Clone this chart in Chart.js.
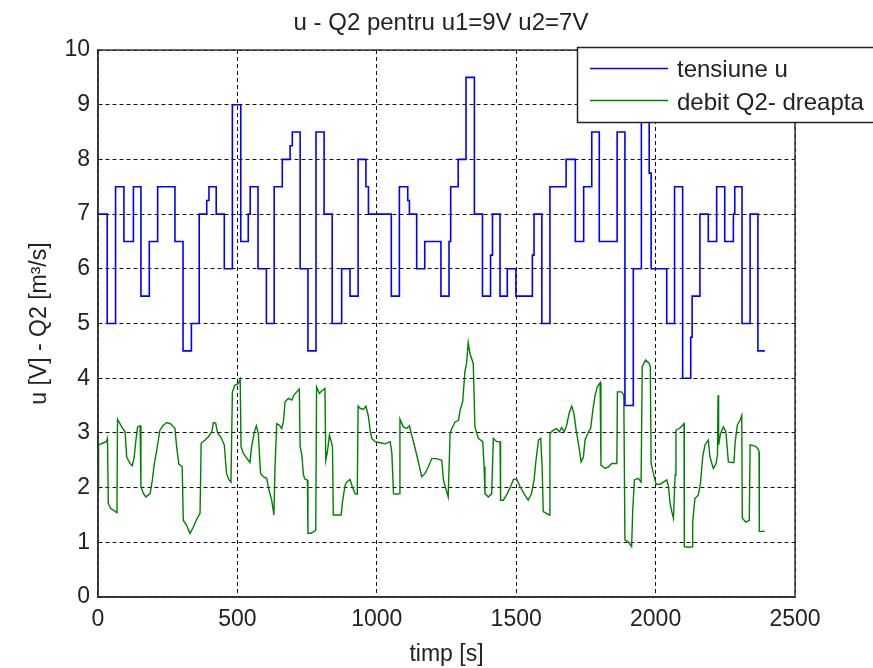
<!DOCTYPE html>
<html>
<head>
<meta charset="utf-8">
<title>u - Q2</title>
<script src="https://cdn.jsdelivr.net/npm/chart.js@4.4.1/dist/chart.umd.min.js"></script>
<style>
  body { margin: 0; background: #fff; }
  #wrap { width: 873px; height: 668px; position: relative; }
</style>
</head>
<body>
<div id="wrap"><canvas id="myChart"></canvas></div>
<script>
// tensiune u: step changes (time [s], value [V])
var uTime = [0, 33, 63, 93, 127, 154, 184, 214, 276, 305, 335, 363, 390, 398, 424, 453, 482, 512, 539, 546,
  574, 604, 632, 661, 689, 697, 725, 753, 782, 811, 840, 874, 904, 933, 961, 970, 1052, 1081, 1111, 1117,
  1143, 1172, 1230, 1259, 1265, 1292, 1320, 1350, 1379, 1408, 1415, 1442, 1468, 1499, 1558, 1564, 1592, 1621,
  1679, 1712, 1742, 1771, 1798, 1862, 1890, 1920, 1949, 1977, 1984, 2040, 2068, 2097, 2126, 2131, 2159, 2189,
  2219, 2248, 2279, 2284, 2310, 2339, 2367, 2392];
var uValue = [7, 5, 7.5, 6.5, 7.5, 5.5, 6.5, 7.5, 6.5, 4.5, 5, 7, 7.25, 7.5, 7, 6, 9, 6.5, 7, 7.5,
  6, 5, 7.5, 8, 8.25, 8.5, 6, 4.5, 8.5, 7, 5, 6, 5.5, 8, 7.5, 7, 5.5, 7.5, 7.25, 7,
  6, 6.5, 5.5, 6.5, 7.5, 8, 9.5, 7, 5.5, 6.25, 7, 5.5, 6, 5.5, 6.25, 7, 5, 7.5,
  8, 6.5, 7.5, 8.5, 6.5, 8.5, 3.5, 6, 9, 7.75, 6, 5, 7.5, 4, 4.75, 5.5, 7, 6.5,
  7.5, 6.5, 7, 7.5, 5, 7, 4.5, 4.5];

// debit Q2 (time [s], value [m3/s])
var qTime = [0, 2, 20, 30, 34, 37, 45, 57, 68, 70, 85, 97, 103, 115, 123, 130, 136, 142, 151, 154,
  163, 172, 187, 195, 202, 210, 222, 234, 247, 262, 276, 282, 290, 302, 306, 318, 330, 342, 354, 366,
  370, 384, 396, 408, 414, 422, 429, 441, 453, 461, 470, 477, 482, 491, 503, 510, 513, 521, 530, 539,
  545, 551, 561, 568, 575, 583, 593, 605, 613, 623, 631, 635, 641, 651, 659, 665, 671, 683, 695, 703,
  713, 722, 725, 731, 737, 743, 751, 753, 766, 781, 784, 794, 803, 814, 817, 823, 830, 835, 841, 844,
  872, 877, 886, 892, 904, 912, 922, 930, 933, 940, 952, 961, 970, 976, 982, 994, 1012, 1030, 1048, 1054,
  1060, 1072, 1080, 1083, 1095, 1107, 1117, 1125, 1133, 1143, 1153, 1161, 1173, 1185, 1197, 1215, 1233, 1239, 1247, 1256,
  1263, 1269, 1281, 1293, 1299, 1308, 1316, 1322, 1328, 1334, 1346, 1352, 1364, 1380, 1385, 1388, 1400, 1412, 1418, 1430,
  1442, 1444, 1454, 1468, 1480, 1490, 1502, 1514, 1528, 1543, 1555, 1564, 1571, 1580, 1588, 1593, 1597, 1609, 1618, 1621,
  1633, 1645, 1655, 1663, 1672, 1681, 1690, 1699, 1707, 1715, 1723, 1733, 1741, 1747, 1759, 1767, 1775, 1783, 1791, 1801,
  1804, 1819, 1831, 1843, 1861, 1863, 1878, 1886, 1890, 1902, 1914, 1918, 1924, 1938, 1948, 1952, 1964, 1976, 1981, 1984,
  1992, 2002, 2016, 2028, 2040, 2046, 2052, 2058, 2064, 2070, 2073, 2085, 2097, 2102, 2103, 2117, 2132, 2133, 2141, 2153,
  2161, 2169, 2177, 2189, 2195, 2207, 2217, 2222, 2224, 2226, 2233, 2243, 2252, 2261, 2273, 2281, 2285, 2293, 2303, 2309,
  2311, 2324, 2336, 2339, 2357, 2365, 2371, 2372, 2392];
var qValue = [1.95, 2.78, 2.82, 2.84, 2.9, 1.71, 1.62, 1.58, 1.54, 3.25, 3.11, 3.02, 2.56, 2.44, 2.4, 2.56, 2.87, 3.11, 3.13, 2.02,
  1.89, 1.83, 1.89, 2.14, 2.44, 2.66, 3.05, 3.14, 3.19, 3.16, 3.08, 2.75, 2.43, 2.38, 1.4, 1.31, 1.16, 1.28, 1.42, 1.53,
  2.81, 2.87, 2.93, 3.02, 3.19, 3.18, 3, 2.92, 2.78, 2.26, 2.14, 2.1, 3.75, 3.87, 3.9, 3.98, 2.75, 2.63, 2.56, 2.5,
  2.46, 2.75, 3.02, 3.13, 2.99, 2.26, 2.2, 2.17, 1.96, 1.77, 1.5, 2.38, 3.17, 3.14, 3.08, 3.2, 3.57, 3.63, 3.6, 3.69,
  3.75, 3.8, 2.75, 2.6, 2.23, 2.15, 2.14, 1.16, 1.17, 1.22, 3.84, 3.72, 3.77, 3.81, 2.5, 2.66, 2.96, 2.87, 2.75, 1.5,
  1.5, 1.74, 2.04, 2.1, 2.15, 2.02, 1.89, 1.88, 3.49, 3.45, 3.43, 3.49, 3.3, 3.05, 2.9, 2.84, 2.82, 2.8, 2.84, 2.63,
  1.89, 1.88, 1.89, 3.25, 3.11, 3.08, 3.13, 2.96, 2.81, 2.6, 2.38, 2.2, 2.26, 2.38, 2.53, 2.53, 2.5, 2.14, 1.99, 1.83,
  2.99, 3.08, 3.2, 3.23, 3.42, 3.57, 4.12, 4.27, 4.65, 4.45, 4.27, 3.11, 2.9, 2.84, 2.38, 1.89, 1.83, 1.89, 2.9, 2.84,
  2.84, 1.77, 1.77, 1.89, 2.02, 2.15, 2.15, 2.02, 1.89, 1.77, 1.89, 2.14, 2.5, 2.87, 2.9, 2.38, 1.56, 1.53, 1.5, 2.99,
  3.05, 3.08, 3.02, 3.1, 3.02, 3.14, 3.36, 3.49, 3.36, 3.05, 2.81, 2.47, 2.56, 2.87, 3.02, 3.08, 3.42, 3.69, 3.84, 3.92,
  2.41, 2.35, 2.38, 2.44, 2.44, 3.75, 3.75, 3.69, 1.04, 1.01, 0.92, 1.59, 2.14, 2.17, 2.1, 4.21, 4.33, 4.28, 4.21, 2.44,
  2.26, 2.06, 2.06, 2.1, 2.14, 2.02, 1.71, 1.56, 1.44, 2.23, 3.05, 3.08, 3.14, 3.17, 0.92, 0.91, 0.92, 1.37, 1.8, 1.86,
  2.08, 2.56, 2.78, 2.87, 2.56, 2.35, 2.44, 2.6, 3.69, 2.78, 2.99, 3.11, 3.02, 2.47, 2.46, 2.46, 2.81, 3.14, 3.23, 3.32,
  1.44, 1.37, 1.4, 2.78, 2.76, 2.72, 2.66, 1.2, 1.2];

var seriesNames = ['tensiune u', 'debit Q2- dreapta'];
var seriesColors = ['rgb(0, 0, 255)', 'rgb(0, 128, 0)'];
var titleText = 'u - Q2 pentru u1=9V u2=7V';
var fontFamily = '"Liberation Sans", Arial, sans-serif';

let chart;

function toPoints(xs, ys) {
  return xs.map((x, i) => ({ x: x, y: ys[i] }));
}

// title over the whole figure + box round the plot
const framePlugin = {
  id: 'frame',
  afterDraw(c) {
    const a = c.chartArea;
    const ctx = c.ctx;
    ctx.save();
    ctx.strokeStyle = '#333';
    ctx.lineWidth = 1.5;
    ctx.setLineDash([]);
    ctx.strokeRect(a.left, a.top, a.right - a.left, a.bottom - a.top);
    ctx.fillStyle = '#222';
    ctx.font = '24px ' + fontFamily;
    ctx.textAlign = 'center';
    ctx.textBaseline = 'middle';
    ctx.fillText(titleText, 441, 23);
    ctx.restore();
  }
};

// legend box in the upper right corner, drawn over the lines
const boxLegend = {
  id: 'boxLegend',
  afterDraw(c) {
    const ctx = c.ctx;
    ctx.save();
    ctx.fillStyle = '#fff';
    ctx.fillRect(577.5, 47.5, 320, 75);
    ctx.strokeStyle = '#222';
    ctx.lineWidth = 1.5;
    ctx.strokeRect(577.5, 47.5, 320, 75);
    const rows = [68.5, 100.5];
    const base = [77, 110];
    ctx.font = '24px ' + fontFamily;
    ctx.textBaseline = 'alphabetic';
    for (let i = 0; i < 2; i++) {
      ctx.strokeStyle = seriesColors[i];
      ctx.lineWidth = 1.5;
      ctx.beginPath();
      ctx.moveTo(590, rows[i]);
      ctx.lineTo(668, rows[i]);
      ctx.stroke();
      ctx.fillStyle = '#222';
      ctx.fillText(seriesNames[i], 677, base[i]);
    }
    ctx.restore();
  }
};

window.onload = function() {
  var ctx = document.getElementById('myChart').getContext('2d');
  Chart.defaults.font.family = fontFamily;
  Chart.defaults.color = '#222';
  chart = new Chart(ctx, {
    type: 'line',
    data: {
      datasets: [
        {
          label: seriesNames[0],
          data: toPoints(uTime, uValue),
          borderColor: seriesColors[0],
          borderWidth: 1.6,
          stepped: 'before',
          pointRadius: 0,
          fill: false,
        },
        {
          label: seriesNames[1],
          data: toPoints(qTime, qValue),
          borderColor: seriesColors[1],
          borderWidth: 1.4,
          pointRadius: 0,
          tension: 0,
          fill: false,
        },
      ],
    },
    options: {
      responsive: true,
      maintainAspectRatio: false,
      animation: false,
      devicePixelRatio: 1,
      layout: { padding: { left: 0, right: 78, top: 50, bottom: 0 } },
      plugins: {
        legend: { display: false },
        tooltip: { enabled: false },
        title: { display: false },
      },
      scales: {
        x: {
          type: 'linear',
          min: 0,
          max: 2500,
          afterFit: s => { s.height = 71; },
          ticks: {
            stepSize: 500,
            font: { size: 23 },
            color: '#222',
            padding: 9,
            maxRotation: 0,
            callback: v => String(v),
          },
          grid: { color: '#111', lineWidth: 1, drawTicks: false },
          border: { display: true, color: '#333', width: 1.5, dash: [4, 3] },
          title: {
            display: true,
            text: 'timp [s]',
            font: { size: 23 },
            color: '#222',
            padding: { top: 0, bottom: 0 },
          },
        },
        y: {
          min: 0,
          max: 10,
          afterFit: s => { s.width = 98; },
          ticks: { stepSize: 1, font: { size: 23 }, color: '#222', padding: 8 },
          grid: { color: '#111', lineWidth: 1, drawTicks: false },
          border: { display: true, color: '#333', width: 1.5, dash: [4, 3] },
          title: {
            display: true,
            text: 'u [V] - Q2 [m³/s]',
            font: { size: 23 },
            color: '#222',
            padding: { top: 26, bottom: 0 },
          },
        },
      },
    },
    plugins: [framePlugin, boxLegend],
  });
};
</script>
</body>
</html>
